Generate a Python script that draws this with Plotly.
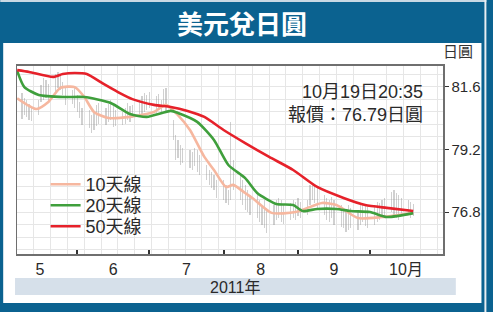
import pandas as pd
import plotly.graph_objects as go

# ---------------- data ----------------
bar_dates = pd.bdate_range("2011-05-09", "2011-10-19")
bar_high = [81.36, 81.17, 81.09, 80.93, 80.78,
            81.09, 81.66, 81.93, 81.85, 81.70,
            82.08, 82.16, 82.04, 81.78, 81.58,
            81.47, 81.55, 81.28, 81.01, 80.78,
            80.70, 80.51, 80.63, 80.90, 80.97,
            80.78, 80.93, 81.09, 80.86, 80.70,
            80.63, 80.78, 80.97, 80.86, 80.90,
            81.09, 81.24, 81.36, 81.28, 81.39,
            81.24, 81.32, 81.09, 81.51, 81.55,
            80.32, 79.75, 79.56, 79.37, 79.25,
            79.17, 79.10, 79.25, 79.17, 78.98,
            78.60, 78.41, 78.33, 78.22, 78.03,
            78.03, 77.84, 77.65, 80.24, 78.79,
            78.22, 78.03, 77.84, 77.65, 77.45,
            77.45, 77.26, 77.07, 77.26, 76.96,
            77.07, 77.26, 77.34, 77.26, 77.07,
            77.14, 77.26, 77.18, 77.34, 77.18,
            77.26, 77.84, 77.91, 77.84, 77.72,
            77.45, 77.34, 77.26, 77.38, 77.26,
            77.07, 76.96, 76.88, 77.07, 76.96,
            76.88, 77.07, 77.14, 77.07, 76.99,
            77.07, 77.18, 77.14, 77.26, 77.34,
            77.57, 77.65, 77.53, 77.45, 77.34,
            77.26, 77.18, 77.11]
bar_low = [80.36, 80.51, 80.44, 80.32, 80.28,
           80.51, 81.01, 81.09, 81.17, 80.97,
           81.39, 81.55, 81.47, 81.28, 80.90,
           80.93, 80.78, 80.63, 80.40, 80.13,
           80.01, 79.82, 79.94, 80.09, 80.17,
           80.13, 80.24, 80.32, 80.05, 80.09,
           80.13, 80.17, 80.32, 80.24, 80.40,
           80.44, 80.55, 80.63, 80.70, 80.78,
           80.59, 80.70, 80.55, 80.90, 80.63,
           79.56, 78.79, 78.86, 78.60, 78.67,
           78.48, 78.41, 78.56, 78.33, 78.22,
           78.03, 77.84, 77.72, 77.65, 77.34,
           77.26, 77.14, 77.07, 77.26, 77.65,
           77.26, 77.07, 76.88, 76.80, 76.69,
           76.57, 76.42, 76.31, 76.19, 76.00,
           76.31, 76.50, 76.57, 76.42, 76.34,
           76.50, 76.57, 76.50, 76.65, 76.57,
           76.69, 77.07, 77.26, 77.14, 76.96,
           76.69, 76.50, 76.42, 76.57, 76.31,
           76.23, 76.19, 76.04, 76.11, 76.19,
           76.11, 76.31, 76.42, 76.27, 76.19,
           76.31, 76.42, 76.50, 76.57, 76.57,
           76.80, 76.69, 76.57, 76.50, 76.69,
           76.69, 76.57, 76.65]

ma10_dates = ["2011-05-07", "2011-05-15", "2011-05-20", "2011-05-25", "2011-05-31",
              "2011-06-04", "2011-06-08", "2011-06-14", "2011-06-23", "2011-07-03",
              "2011-07-08", "2011-07-13", "2011-07-18", "2011-07-24", "2011-07-28",
              "2011-08-02", "2011-08-05", "2011-08-10", "2011-08-13", "2011-08-21",
              "2011-08-31", "2011-09-11", "2011-09-17", "2011-09-26", "2011-10-06",
              "2011-10-19"]
ma10_vals = [81.15, 80.74, 81.01, 81.55, 81.58,
             81.20, 80.63, 80.40, 80.44, 80.63,
             80.90, 80.51, 79.94, 78.91, 78.41,
             77.76, 77.84, 77.53, 77.34, 76.77,
             76.80, 77.15, 77.07, 76.57, 76.61,
             76.76]

ma20_dates = ["2011-05-07", "2011-05-10", "2011-05-16", "2011-05-27", "2011-06-04",
              "2011-06-15", "2011-06-23", "2011-06-30", "2011-07-10", "2011-07-13",
              "2011-07-21", "2011-07-28", "2011-08-03", "2011-08-10", "2011-08-15",
              "2011-08-23", "2011-08-30", "2011-09-03", "2011-09-09", "2011-09-17",
              "2011-09-23", "2011-10-01", "2011-10-08", "2011-10-19"]
ma20_vals = [82.20, 81.58, 81.28, 81.20, 81.20,
             80.97, 80.55, 80.44, 80.67, 80.59,
             80.25, 79.56, 78.60, 78.10, 77.53,
             77.11, 77.07, 76.84, 76.92, 76.92,
             76.84, 76.80, 76.61, 76.76]

ma50_dates = ["2011-05-07", "2011-05-12", "2011-05-22", "2011-05-26", "2011-05-31",
              "2011-06-05", "2011-06-12", "2011-06-18", "2011-06-24", "2011-07-03",
              "2011-07-10", "2011-07-17", "2011-07-24", "2011-08-01", "2011-08-10",
              "2011-08-20", "2011-08-30", "2011-09-09", "2011-09-20", "2011-09-29",
              "2011-10-08", "2011-10-19"]
ma50_vals = [82.23, 82.16, 81.97, 82.08, 82.12,
             82.08, 81.70, 81.39, 81.12, 80.90,
             80.82, 80.67, 80.44, 79.94, 79.44,
             78.91, 78.41, 77.76, 77.34, 77.07,
             76.96, 76.84]

series_names = ["10天線", "20天線", "50天線"]
series_colors = ["#f6b79f", "#3f9f3c", "#e6212a"]

y_ticks = [76.8, 79.2, 81.6]
title_text = "美元兌日圓"
unit_text = "日圓"
quote_lines = ["10月19日20:35", "報價：76.79日圓"]
year_text = "2011年"

# ---------------- layout constants ----------------
W, H = 493, 312
L, R, T, B = 17, 449, 66, 254          # plot area in pixels
BLUE = "#0b6290"
FONT = "Liberation Sans, Noto Sans CJK TC, sans-serif"


def px(x):
    return (x - L) / (R - L)


def py(y):
    return (B - y) / (B - T)


x_range = ["2011-05-06 22:30", "2011-10-31 10:00"]
y_range = [75.197, 82.387]

fig = go.Figure()

fig.add_trace(go.Bar(
    x=bar_dates,
    base=bar_low,
    y=[h - l for h, l in zip(bar_high, bar_low)],
    width=0.55 * 86400000,
    marker=dict(color="rgba(150,150,150,0.45)", line=dict(width=0)),
    showlegend=False, hoverinfo="skip",
))

legend_ids = ["legend", "legend2", "legend3"]
legend_tops = [166, 187, 208]
for name, color, xs, ys, lg in zip(series_names, series_colors,
                                    [ma10_dates, ma20_dates, ma50_dates],
                                    [ma10_vals, ma20_vals, ma50_vals], legend_ids):
    fig.add_trace(go.Scatter(
        x=xs, y=ys, mode="lines", name=name, legend=lg,
        line=dict(color=color, width=2.6, shape="spline", smoothing=0.6),
    ))

shapes = [
    dict(type="rect", xref="paper", yref="paper",
         x0=px(3), x1=px(488), y0=py(303), y1=py(43),
         fillcolor="white", line_width=0, layer="below"),
    dict(type="rect", xref="paper", yref="paper",
         x0=px(0), x1=px(493), y0=py(2), y1=py(0),
         fillcolor="#c9d9e4", line_width=0, layer="below"),
    dict(type="rect", xref="paper", yref="paper",
         x0=px(491), x1=px(493), y0=py(312), y1=py(0),
         fillcolor="#e8eef2", line_width=0, layer="below"),
    dict(type="rect", xref="paper", yref="paper",
         x0=px(15), x1=px(462), y0=py(295), y1=py(278),
         fillcolor="#d6e0ea", line_width=0, layer="below"),
    dict(type="rect", xref="paper", yref="y",
         x0=0, x1=1, y0=y_range[0], y1=76.0,
         fillcolor="white", line_width=0, layer="between"),
    dict(type="rect", xref="x", yref="paper",
         x0="2011-10-29 12:00", x1=x_range[1], y0=0, y1=1,
         fillcolor="white", line_width=0, layer="between"),
]

annotations = [
    dict(text=title_text, xref="paper", yref="paper", x=px(245), y=py(22),
         xanchor="center", yanchor="middle", showarrow=False,
         font=dict(family="Noto Sans CJK TC, sans-serif", size=26, color="white", weight="bold")),
    dict(text=unit_text, xref="paper", yref="paper", x=px(464), y=py(51),
         xanchor="center", yanchor="middle", showarrow=False,
         font=dict(family=FONT, size=15, color="#333333")),
    dict(text="<br>".join(quote_lines), xref="paper", yref="paper", x=px(431), y=py(103),
         xanchor="right", yanchor="middle", align="right", showarrow=False,
         font=dict(family=FONT, size=18, color="#2a2a2a")),
    dict(text=year_text, xref="paper", yref="paper", x=px(238), y=py(287),
         xanchor="center", yanchor="middle", showarrow=False,
         font=dict(family=FONT, size=16, color="#2a2a2a")),
]

legend_style = dict(xanchor="left", yanchor="top", bgcolor="rgba(0,0,0,0)",
                    font=dict(size=18, color="#2a2a2a"), itemwidth=30)

fig.update_layout(
    width=W, height=H,
    margin=dict(l=L, r=W - R, t=T, b=H - B, pad=0),
    paper_bgcolor=BLUE, plot_bgcolor="white",
    font=dict(family=FONT, color="#2a2a2a"),
    shapes=shapes, annotations=annotations,
    bargap=0,
    legend=dict(x=px(46), y=py(legend_tops[0]), **legend_style),
    legend2=dict(x=px(46), y=py(legend_tops[1]), **legend_style),
    legend3=dict(x=px(46), y=py(legend_tops[2]), **legend_style),
    xaxis=dict(
        type="date", range=x_range,
        dtick="M1", tick0="2011-05-01", ticklabelmode="period",
        tickformat="%-m", labelalias={"10": "10月"},
        ticks="inside", ticklen=4, tickwidth=2, tickcolor="#333333",
        tickfont=dict(size=16, color="#2a2a2a"),
        showgrid=False,
        minor=dict(dtick=7 * 86400000, tick0="2011-05-07", showgrid=True,
                   gridcolor="#e6e6e6", gridwidth=1, ticks=""),
        showline=True, linecolor="#6f6f6f", linewidth=2, mirror=True,
        zeroline=False, fixedrange=True,
    ),
    yaxis=dict(
        side="right", range=y_range,
        tickmode="linear", tick0=y_ticks[0], dtick=y_ticks[1] - y_ticks[0],
        tickformat=".1f",
        ticks="outside", ticklen=4, tickwidth=1, tickcolor="#333333",
        tickfont=dict(size=15, color="#2a2a2a"),
        showgrid=True, gridcolor="#e6e6e6", gridwidth=1,
        minor=dict(dtick=0.48, tick0=y_ticks[0], showgrid=True,
                   gridcolor="#e6e6e6", gridwidth=1, ticks=""),
        showline=True, linecolor="#6f6f6f", linewidth=1.5, mirror=True,
        zeroline=False, fixedrange=True,
    ),
)

fig.write_html("out.html",
               config={"displayModeBar": False, "staticPlot": True},
               post_script="document.body.style.margin='0';document.body.style.padding='0';")
